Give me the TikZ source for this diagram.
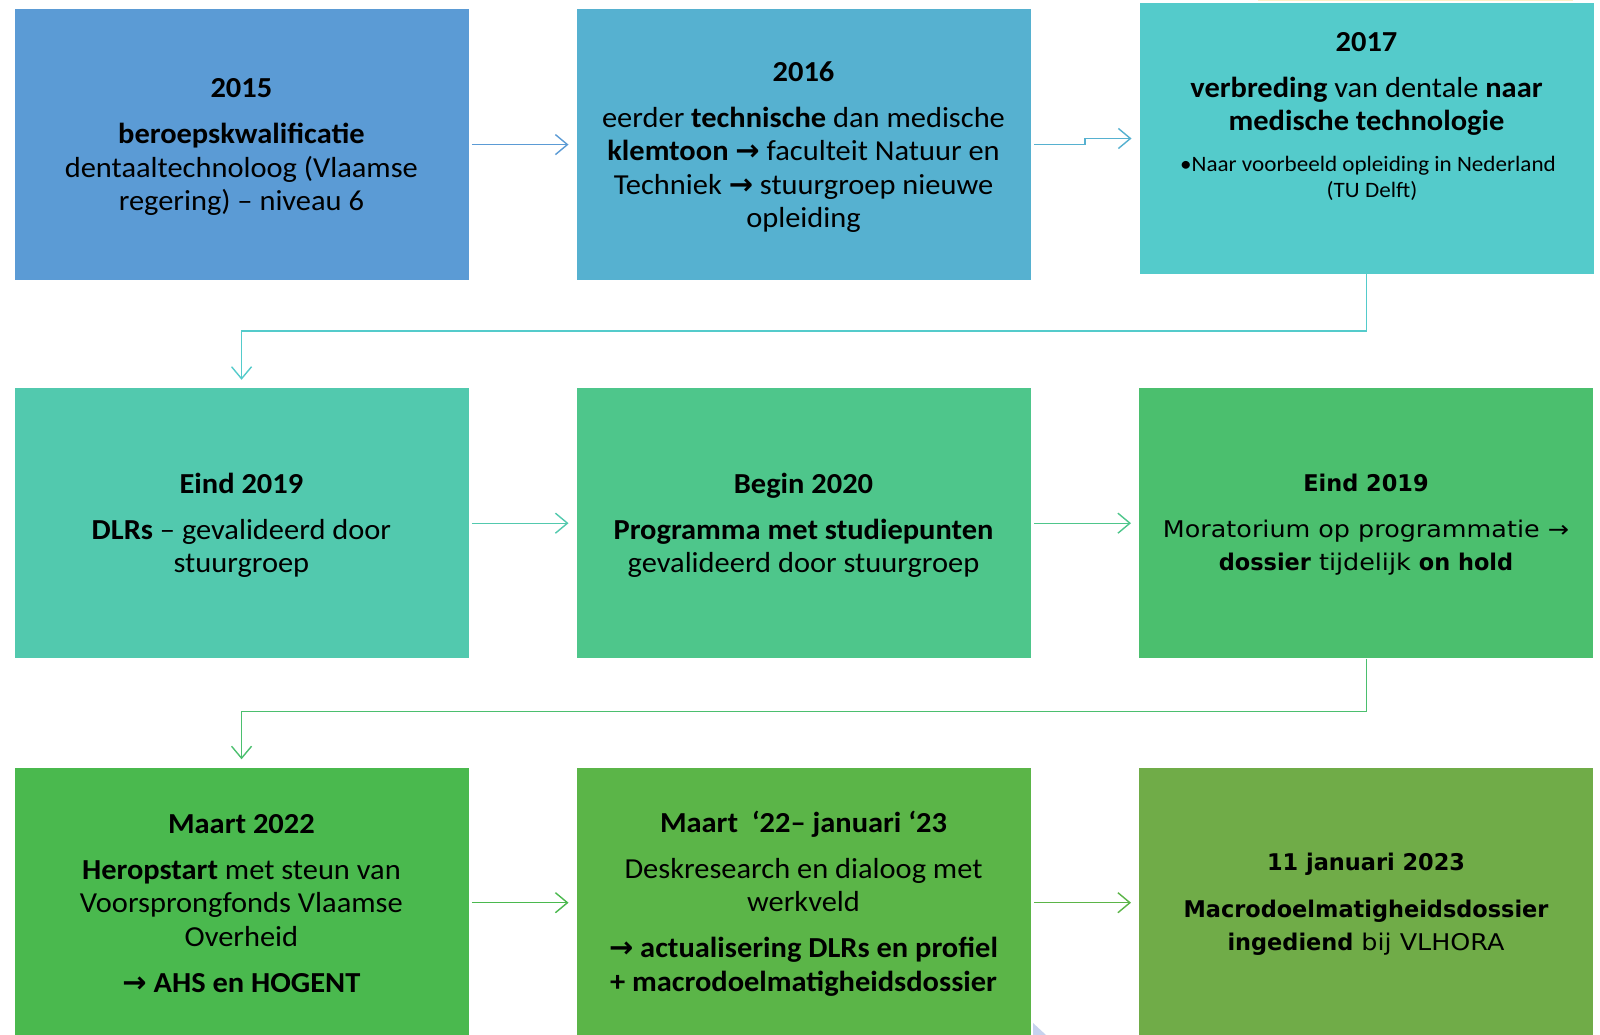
\documentclass[tikz,border=0pt]{standalone}
\usepackage{fontspec}
\setmainfont{Carlito}[FakeStretch=1.05]
\newfontfamily\djv{DejaVu Sans}
\newfontfamily\vreg{DejaVu Sans}[FakeStretch=1.105]
\newfontfamily\vbold{DejaVu Sans}[UprightFont={* Bold}, FakeStretch=0.975]
\usetikzlibrary{arrows.meta}
\newcommand\rarr{{\djv\bfseries →}}
\definecolor{c1}{HTML}{5B9BD5}
\definecolor{c2}{HTML}{56B1D0}
\definecolor{c3}{HTML}{54CBCB}
\definecolor{c4}{HTML}{52C9AE}
\definecolor{c5}{HTML}{4EC68B}
\definecolor{c6}{HTML}{4BBF6E}
\definecolor{c7}{HTML}{4AB94E}
\definecolor{c8}{HTML}{5BB548}
\definecolor{c9}{HTML}{70AC48}
\definecolor{lav}{HTML}{C7D2EE}
\definecolor{ylw}{HTML}{FDEFC4}
\tikzset{
  box/.style={rectangle, draw=none, minimum width=454.1pt, minimum height=270.4pt, inner sep=0pt, anchor=north west},
  txt/.style={align=center, text=black, inner sep=0pt, font=\fontsize{29}{33.5}\selectfont},
  vtxt/.style={align=center, text=black, inner sep=0pt, font=\vreg\fontsize{23}{33}\selectfont},
  smalltxt/.style={align=center, text=black, inner sep=0pt, font=\fontsize{22}{25.5}\selectfont},
  con/.style={line width=1.4pt, -{Straight Barb[length=12pt,width=20pt]}, shorten >=8pt, shorten <=3pt}
}
\begin{document}
\begin{tikzpicture}[x=1pt,y=-1pt]
\useasboundingbox (0,0) rectangle (1600,1035);
\fill[white] (0,0) rectangle (1600,1035);
\fill[ylw] (1258,0) rectangle (1573,1.5);

% boxes
\node[box, fill=c1] (b1) at (14.3,9.2) {};
\node[box, fill=c2] (b2) at (576.5,9.2) {};
\node[box, fill=c3] (b3) at (1139.5,3.1) {};
\node[box, fill=c4] (b4) at (14.3,387.8) {};
\node[box, fill=c5] (b5) at (576.5,387.8) {};
\node[box, fill=c6] (b6) at (1139.0,387.8) {};
\node[box, fill=c7] (b7) at (14.3,767.3) {};
\node[box, fill=c8] (b8) at (576.5,767.3) {};
\node[box, fill=c9] (b9) at (1139.0,767.3) {};

\fill[lav] (1033,1023) -- (1046,1035) -- (1033,1035) -- cycle;

% texts
\node[txt] (t1) at (241.4,147.4) {\textbf{2015}\\[12.5pt]
  \textbf{beroepskwalificatie}\\
  dentaaltechnoloog (Vlaamse\\
  regering) – niveau 6};
\node[txt] (t2) at (803.5,146.9) {\textbf{2016}\\[12.5pt]
  eerder \textbf{technische} dan medische\\
  \textbf{klemtoon} \rarr\ faculteit Natuur en\\
  Techniek \rarr\ stuurgroep nieuwe\\
  opleiding};
\node[txt] (t3) at (1366.5,84.1) {\textbf{2017}\\[12.5pt]
  \textbf{verbreding} van dentale \textbf{naar}\\
  \textbf{medische technologie}};
\node[smalltxt] (t3s) at (1368,178.5) {•Naar voorbeeld opleiding in Nederland\\
  \hspace*{8pt}(TU Delft)};
\node[txt] (t4) at (241.4,525.5) {\textbf{Eind 2019}\\[12.5pt]
  \textbf{DLRs} – gevalideerd door\\
  stuurgroep};
\node[txt] (t5) at (803.5,525.5) {\textbf{Begin 2020}\\[12.5pt]
  \textbf{Programma met studiepunten}\\
  gevalideerd door stuurgroep};
\node[vtxt] (t6) at (1366,525) {{\vbold Eind 2019}\\[13pt]
  Moratorium op programmatie →\\
  {\vbold dossier} tijdelijk {\vbold on hold}};
\node[txt] (t7) at (241.4,903.5) {\textbf{Maart 2022}\\[12.5pt]
  \textbf{Heropstart} met steun van\\
  Voorsprongfonds Vlaamse\\
  Overheid\\[12.5pt]
  \textbf{\rarr\ AHS en HOGENT}};
\node[txt] (t8) at (803.5,903.5) {\textbf{Maart\ \ ‘22– januari ‘23}\\[12.5pt]
  Deskresearch en dialoog met\\
  werkveld\\[12.5pt]
  \textbf{\rarr\ actualisering DLRs en profiel}\\
  \textbf{+ macrodoelmatigheidsdossier}};
\node[vtxt] (t9) at (1366,904.5) {{\vbold 11 januari 2023}\\[14pt]
  {\vbold Macrodoelmatigheidsdossier}\\
  {\vbold ingediend} bij VLHORA};

% connectors
\draw[con, c1] (b1.east) -- (b2.west);
\draw[con, c2] (b2.east) -- ++(54,0) |- (b3.west);
\draw[con, c3, shorten <=0pt] (b3.south) -- ++(0,57.1) -| (b4.north);
\draw[con, c4] (b4.east) -- (b5.west);
\draw[con, c5] (b5.east) -- (b6.west);
\draw[con, c6, shorten <=0pt] (b6.south) -- ++(0,53) -| (b7.north);
\draw[con, c7] (b7.east) -- (b8.west);
\draw[con, c8] (b8.east) -- (b9.west);
\end{tikzpicture}
\end{document}
